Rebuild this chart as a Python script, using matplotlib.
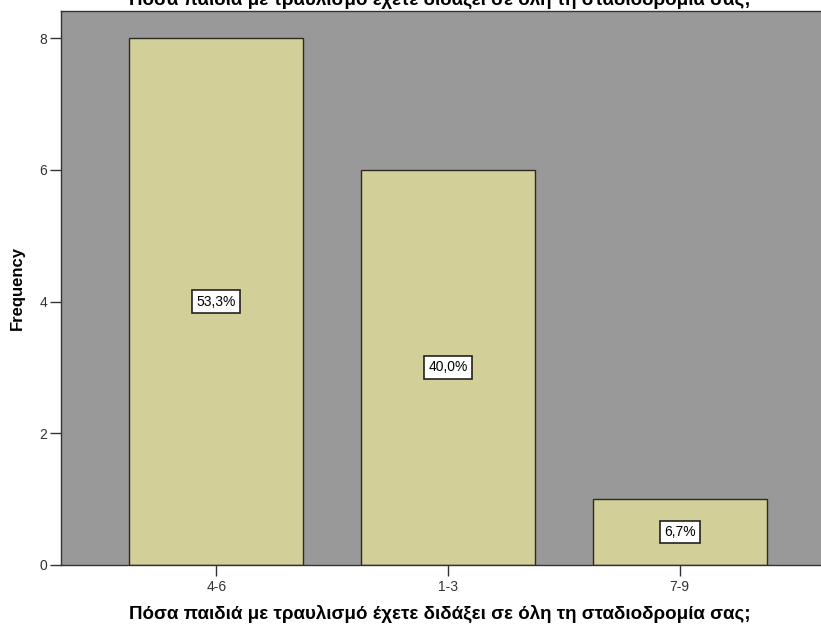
import matplotlib
matplotlib.use("Agg")
import matplotlib.pyplot as plt

categories = ["4-6", "1-3", "7-9"]
counts = [8, 6, 1]
pct_labels = ["53,3%", "40,0%", "6,7%"]
y_ticks = [0, 2, 4, 6, 8]

TITLE = "Πόσα παιδιά με τραυλισμό έχετε διδάξει σε όλη τη σταδιοδρομία σας;"

plt.rcParams["font.family"] = ["Liberation Sans", "DejaVu Sans"]

fig = plt.figure(figsize=(8.21, 6.27), dpi=100)
W, H = 821, 627
# axes box in pixels (left, top, right, bottom); right side runs past the image edge
L, T, R, B = 61, 11, 835, 565
ax = fig.add_axes([L / W, 1 - B / H, (R - L) / W, (B - T) / H])
ax.set_facecolor("#999999")

x = list(range(len(categories)))
ax.bar(x, counts, width=0.75, color="#d3cf98", edgecolor="#2b2b22", linewidth=1.0, zorder=2)
for xi, c, lab in zip(x, counts, pct_labels):
    ax.text(xi, c / 2, lab, ha="center", va="center", fontsize=10, color="black", zorder=3,
            bbox=dict(boxstyle="square,pad=0.3", fc="white", ec="#222222", lw=1.2))

ax.set_xlim(-0.67, 2.67)
ax.set_ylim(0, 8.41)
ax.set_xticks(x)
ax.set_xticklabels(categories)
ax.set_yticks(y_ticks)
ax.tick_params(axis="both", direction="out", length=8, width=1, color="#333333",
               labelsize=10, labelcolor="#333333")
ax.tick_params(axis="x", pad=3)
ax.tick_params(axis="y", pad=2)
for side in ("left", "top", "bottom"):
    ax.spines[side].set_color("#333333")
    ax.spines[side].set_linewidth(1.0)
ax.spines["right"].set_visible(False)

ax.set_ylabel("Frequency", fontsize=12, fontweight="bold", labelpad=10)
fig.text(440 / W, 1 - 614 / H, TITLE, ha="center", va="center", fontsize=13.5, fontweight="bold")
# chart title, clipped by the top edge as in the source image
fig.text(440 / W, 1 - 0 / H, TITLE, ha="center", va="center", fontsize=13.5, fontweight="bold")

fig.savefig("out.png", dpi=100)
